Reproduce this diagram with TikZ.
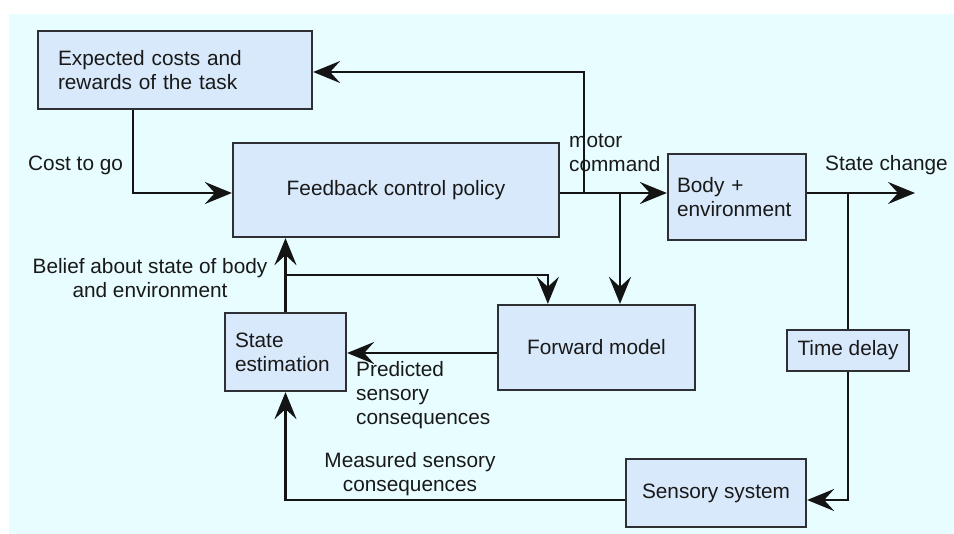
\documentclass[tikz,border=0pt]{standalone}
\usepackage{fontspec}
\setmainfont{Liberation Sans}
\usetikzlibrary{arrows.meta}
\definecolor{panel}{HTML}{E8FDFF}
\definecolor{boxfill}{HTML}{D8E9FB}
\definecolor{edge}{HTML}{2E3033}
\tikzset{
  block/.style={draw=edge, line width=2.3pt, fill=boxfill, inner sep=0pt,
    font=\fontsize{20.8}{24}\selectfont, text=black!90},
  lbl/.style={inner sep=0pt, font=\fontsize{20.8}{24}\selectfont, text=black!90},
  arr/.style={line width=2.7pt, draw=black!92,
    -{Stealth[length=27pt,width=22pt,inset=10pt]}},
  wire/.style={line width=2.7pt, draw=black!92},
}
\begin{document}
\begin{tikzpicture}[x=1pt,y=-1pt]
\useasboundingbox (0,0) rectangle (954,534);
\fill[white] (0,0) rectangle (954,534);
\fill[panel] (9,14) rectangle (954,534);

% blocks
\node[block, minimum width=274pt, minimum height=78pt, text width=234pt,
      align=left, inner xsep=20pt] (exp) at (175,70)
  {Expected costs and\\rewards of the task};
\node[block, minimum width=326pt, minimum height=94pt] (fb) at (396,190)
  {Feedback control policy};
\node[block, minimum width=138pt, minimum height=86pt, text width=120pt,
      align=left, inner xsep=9pt] (body) at (737,197)
  {\raisebox{4pt}{\parbox{120pt}{Body +\\environment}}};
\node[block, minimum width=121pt, minimum height=78pt, text width=101pt,
      align=left, inner xsep=10pt] (se) at (285.5,352)
  {State\\estimation};
\node[block, minimum width=197pt, minimum height=85pt] (fwd) at (596.5,347.5)
  {Forward model};
\node[block, minimum width=122pt, minimum height=41pt] (td) at (848,350.5)
  {Time delay};
\node[block, minimum width=180pt, minimum height=68pt] (sens) at (716,493)
  {Sensory system};

% junction points on the motor command and state change lines
\coordinate (j1) at (584,193);
\coordinate (j2) at (620,193);
\coordinate (j3) at (848,193);
\coordinate (out) at (915,193);
\coordinate (b1) at (285.5,275);

% connectors
\draw[arr] (fb.east |- j1) -- (body.west |- j1);
\draw[arr] (j1) |- ([yshift=-2pt]exp.east);
\draw[arr] (j2) -- (j2 |- fwd.north);
\draw[arr] (body.east |- j3) -- (out);
\draw[wire] (j3) -- (td.north);
\draw[arr] (td.south) |- ([yshift=-7pt]sens.east);
\draw[arr] ([xshift=96pt]exp.south west) |- (fb.west |- j1);
\draw[arr] (se.north) -- (se.north |- fb.south);
\draw[arr] (b1) -| ([xshift=51pt]fwd.north west);
\draw[arr] ([yshift=-5.5pt]fwd.west) -- ([yshift=-5.5pt]fwd.west -| se.east);
\draw[arr] ([yshift=-7pt]sens.west) -| (se.south);

% labels
\node[lbl, anchor=west] (lcost) at (28,165) {Cost to go};
\node[lbl, anchor=west, align=left] (lmotor) at (569,153) {motor\\command};
\node[lbl, anchor=west] (lstate) at (825,165) {State change};
\node[lbl, align=center] (lbelief) at (150,278.5)
  {Belief about state of body\\and environment};
\node[lbl, anchor=west, align=left] (lpred) at (356,395)
  {Predicted\\sensory\\consequences};
\node[lbl, align=center] (lmeas) at (410,474)
  {Measured sensory\\consequences};
\end{tikzpicture}
\end{document}
